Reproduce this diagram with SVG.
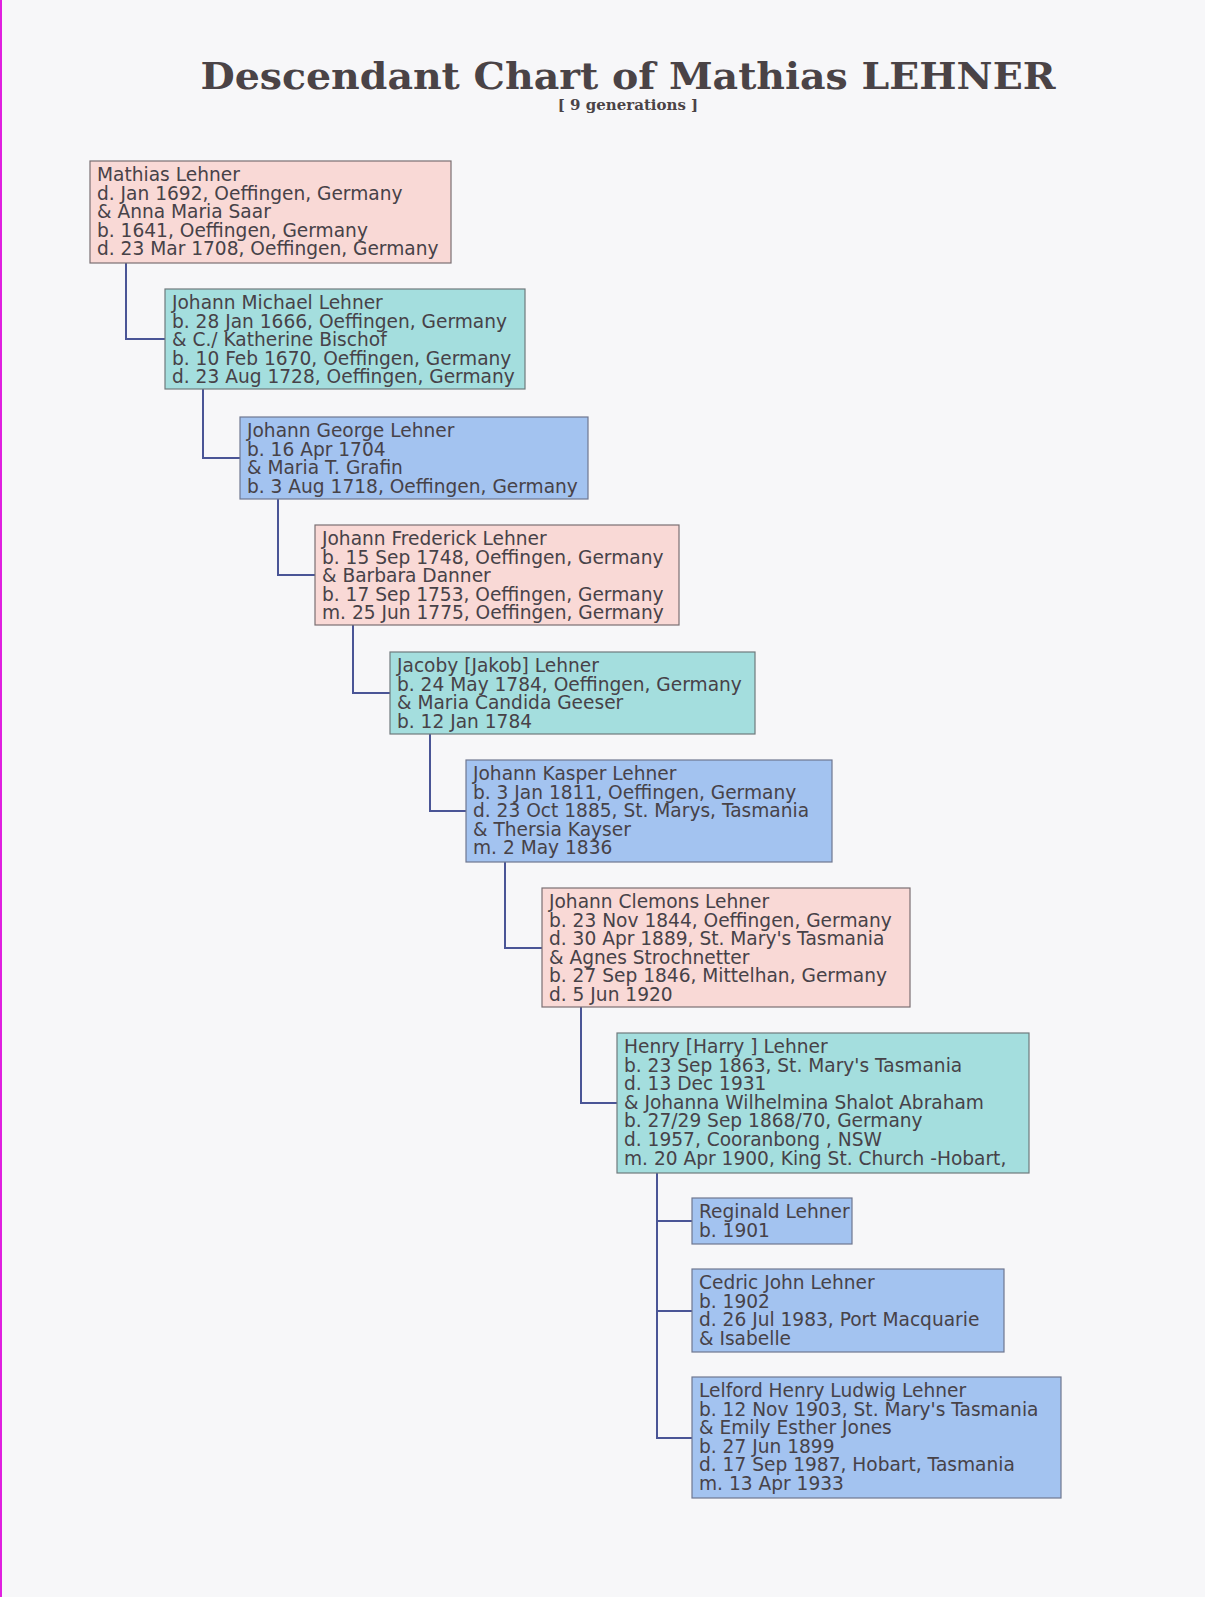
<svg xmlns="http://www.w3.org/2000/svg" width="1205" height="1597" viewBox="0 0 1205 1597">
<style>
.bg{fill:#f7f7f9}
.p{fill:#f9d9d6;stroke:#7a6f72;stroke-width:1.2}
.t{fill:#a4dede;stroke:#6f7a7c;stroke-width:1.2}
.b{fill:#a3c3f0;stroke:#6f7790;stroke-width:1.2}
text.n{font-family:"DejaVu Sans",sans-serif;font-size:18.6px;fill:#474248}
.c{fill:none;stroke:#4a5596;stroke-width:2}
</style>
<rect class="bg" width="1205" height="1597"/>
<rect x="0" y="0" width="2" height="1597" fill="#e020e0"/>
<text x="628" y="89" text-anchor="middle" font-family="DejaVu Serif,serif" font-weight="bold" font-size="37" fill="#4a4346" textLength="855" lengthAdjust="spacingAndGlyphs">Descendant Chart of Mathias LEHNER</text>
<text x="628" y="110" text-anchor="middle" font-family="DejaVu Serif,serif" font-weight="bold" font-size="15" fill="#4a4346">[ 9 generations ]</text>
<g id="connectors">
<path class="c" d="M126 263V339H165"/>
<path class="c" d="M203 389V458H240"/>
<path class="c" d="M278 499V575H315"/>
<path class="c" d="M353 625V693H390"/>
<path class="c" d="M430 734V811H466"/>
<path class="c" d="M505 862V948H542"/>
<path class="c" d="M581 1007V1103H617"/>
<path class="c" d="M657 1173V1438H692M657 1221H692M657 1311H692"/>
</g>
<g id="n1"><rect class="p" x="90" y="161" width="361" height="102"/>
<text class="n" x="97" y="181">Mathias Lehner<tspan x="97" dy="18.6">d. Jan 1692, Oeffingen, Germany</tspan><tspan x="97" dy="18.6">&amp; Anna Maria Saar</tspan><tspan x="97" dy="18.6">b. 1641, Oeffingen, Germany</tspan><tspan x="97" dy="18.6">d. 23 Mar 1708, Oeffingen, Germany</tspan></text></g>
<g id="n2"><rect class="t" x="165" y="289" width="360" height="100"/>
<text class="n" x="172" y="309">Johann Michael Lehner<tspan x="172" dy="18.6">b. 28 Jan 1666, Oeffingen, Germany</tspan><tspan x="172" dy="18.6">&amp; C./ Katherine Bischof</tspan><tspan x="172" dy="18.6">b. 10 Feb 1670, Oeffingen, Germany</tspan><tspan x="172" dy="18.6">d. 23 Aug 1728, Oeffingen, Germany</tspan></text></g>
<g id="n3"><rect class="b" x="240" y="417" width="348" height="82"/>
<text class="n" x="247" y="437">Johann George Lehner<tspan x="247" dy="18.6">b. 16 Apr 1704</tspan><tspan x="247" dy="18.6">&amp; Maria T. Grafin</tspan><tspan x="247" dy="18.6">b. 3 Aug 1718, Oeffingen, Germany</tspan></text></g>
<g id="n4"><rect class="p" x="315" y="525" width="364" height="100"/>
<text class="n" x="322" y="545">Johann Frederick Lehner<tspan x="322" dy="18.6">b. 15 Sep 1748, Oeffingen, Germany</tspan><tspan x="322" dy="18.6">&amp; Barbara Danner</tspan><tspan x="322" dy="18.6">b. 17 Sep 1753, Oeffingen, Germany</tspan><tspan x="322" dy="18.6">m. 25 Jun 1775, Oeffingen, Germany</tspan></text></g>
<g id="n5"><rect class="t" x="390" y="652" width="365" height="82"/>
<text class="n" x="397" y="672">Jacoby [Jakob] Lehner<tspan x="397" dy="18.6">b. 24 May 1784, Oeffingen, Germany</tspan><tspan x="397" dy="18.6">&amp; Maria Candida Geeser</tspan><tspan x="397" dy="18.6">b. 12 Jan 1784</tspan></text></g>
<g id="n6"><rect class="b" x="466" y="760" width="366" height="102"/>
<text class="n" x="473" y="780">Johann Kasper Lehner<tspan x="473" dy="18.6">b. 3 Jan 1811, Oeffingen, Germany</tspan><tspan x="473" dy="18.6">d. 23 Oct 1885, St. Marys, Tasmania</tspan><tspan x="473" dy="18.6">&amp; Thersia Kayser</tspan><tspan x="473" dy="18.6">m. 2 May 1836</tspan></text></g>
<g id="n7"><rect class="p" x="542" y="888" width="368" height="119"/>
<text class="n" x="549" y="908">Johann Clemons Lehner<tspan x="549" dy="18.6">b. 23 Nov 1844, Oeffingen, Germany</tspan><tspan x="549" dy="18.6">d. 30 Apr 1889, St. Mary's Tasmania</tspan><tspan x="549" dy="18.6">&amp; Agnes Strochnetter</tspan><tspan x="549" dy="18.6">b. 27 Sep 1846, Mittelhan, Germany</tspan><tspan x="549" dy="18.6">d. 5 Jun 1920</tspan></text></g>
<g id="n8"><rect class="t" x="617" y="1033" width="412" height="140"/>
<text class="n" x="624" y="1053">Henry [Harry ] Lehner<tspan x="624" dy="18.6">b. 23 Sep 1863, St. Mary's Tasmania</tspan><tspan x="624" dy="18.6">d. 13 Dec 1931</tspan><tspan x="624" dy="18.6">&amp; Johanna Wilhelmina Shalot Abraham</tspan><tspan x="624" dy="18.6">b. 27/29 Sep 1868/70, Germany</tspan><tspan x="624" dy="18.6">d. 1957, Cooranbong , NSW</tspan><tspan x="624" dy="18.6">m. 20 Apr 1900, King St. Church -Hobart,</tspan></text></g>
<g id="n9"><rect class="b" x="692" y="1198" width="160" height="46"/>
<text class="n" x="699" y="1218">Reginald Lehner<tspan x="699" dy="18.6">b. 1901</tspan></text></g>
<g id="n10"><rect class="b" x="692" y="1269" width="312" height="83"/>
<text class="n" x="699" y="1289">Cedric John Lehner<tspan x="699" dy="18.6">b. 1902</tspan><tspan x="699" dy="18.6">d. 26 Jul 1983, Port Macquarie</tspan><tspan x="699" dy="18.6">&amp; Isabelle</tspan></text></g>
<g id="n11"><rect class="b" x="692" y="1377" width="369" height="121"/>
<text class="n" x="699" y="1397">Lelford Henry Ludwig Lehner<tspan x="699" dy="18.6">b. 12 Nov 1903, St. Mary's Tasmania</tspan><tspan x="699" dy="18.6">&amp; Emily Esther Jones</tspan><tspan x="699" dy="18.6">b. 27 Jun 1899</tspan><tspan x="699" dy="18.6">d. 17 Sep 1987, Hobart, Tasmania</tspan><tspan x="699" dy="18.6">m. 13 Apr 1933</tspan></text></g>
</svg>
